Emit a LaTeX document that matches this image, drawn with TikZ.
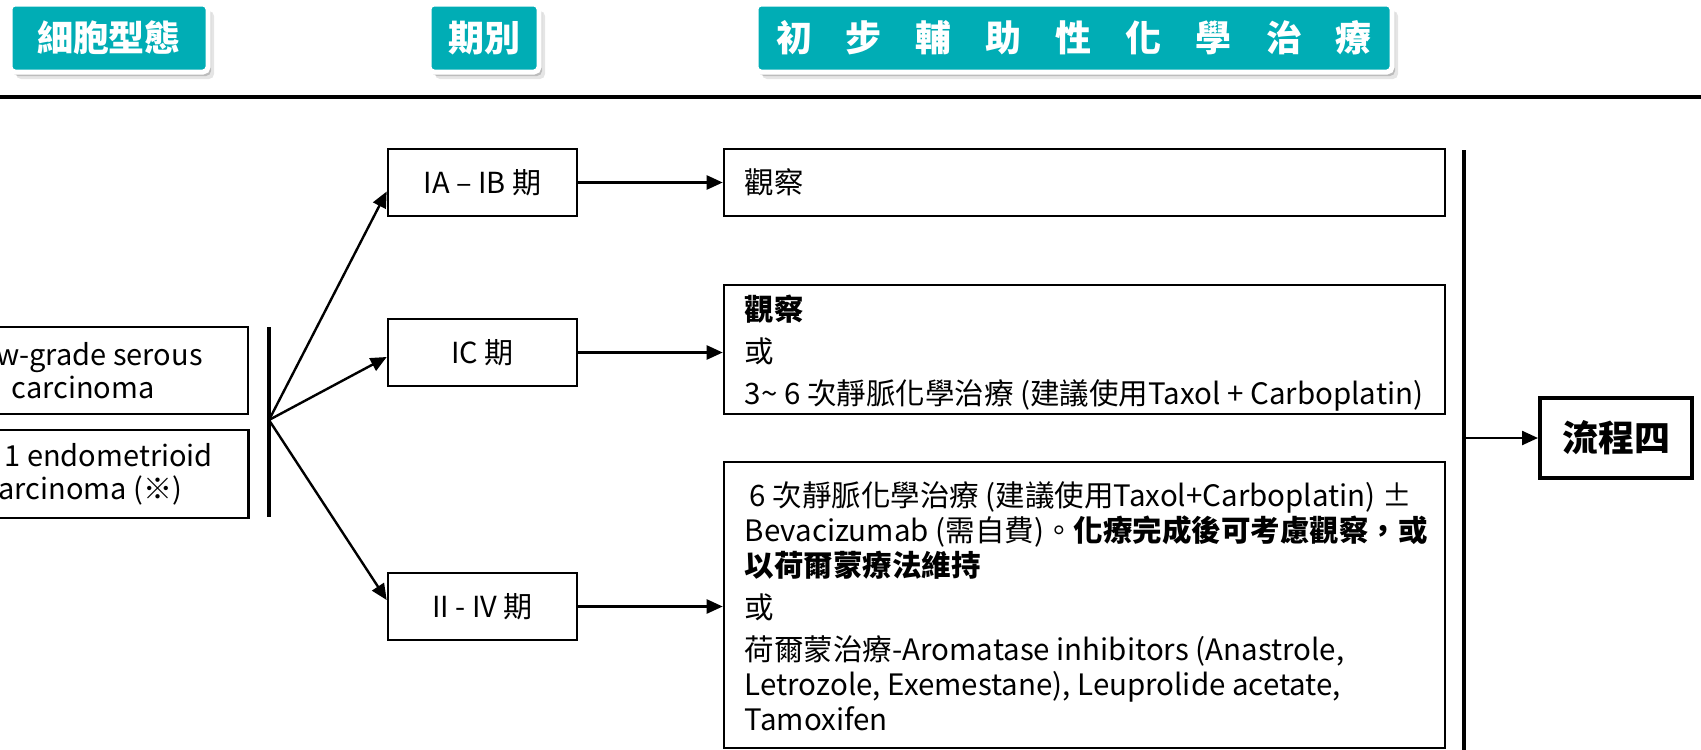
\documentclass[tikz,border=0pt]{standalone}
\usepackage{fontspec}
\setmainfont{Noto Sans CJK TC}
\usetikzlibrary{arrows.meta,calc,shadows}
\definecolor{hteal}{RGB}{0,173,181}
\newcommand\hgap{\hspace{34pt}}
\begin{document}
\begin{tikzpicture}[x=1pt,y=-1pt,
  hdr/.style={fill=hteal, draw=white, line width=5pt, rounded corners=5pt, text=white,
    font=\fontsize{36}{40}\selectfont\bfseries, inner sep=0pt,
    drop shadow={shadow xshift=3pt, shadow yshift=-4pt, fill=black, opacity=0.18},
    drop shadow={shadow xshift=6pt, shadow yshift=-7pt, fill=black, opacity=0.10}},
  box/.style={draw=black, line width=2.6pt, fill=white, inner sep=0pt},
  sbox/.style={box, minimum width=189pt, minimum height=67pt, font=\fontsize{29}{34}\selectfont},
  rbox/.style={box, minimum width=721pt},
  rtext/.style={align=left, inner sep=0pt, font=\fontsize{29.5}{35}\selectfont},
  lbox/.style={box, minimum width=330pt, align=center, font=\fontsize{29}{33}\selectfont},
  arr/.style={line width=2.4pt, -{Triangle[length=16pt,width=14pt]}},
  bar/.style={line width=4pt},
]
\useasboundingbox (0,0) rectangle (1701,750);
\clip (0,0) rectangle (1701,750);

% headers
\node[hdr, minimum width=198pt, minimum height=68pt] (h1) at (109,38) {細胞型態};
\node[hdr, minimum width=110pt, minimum height=68pt] (h2) at (484,38) {期別};
\node[hdr, minimum width=636pt, minimum height=68pt] (h3) at (1074,38)
  {初\hgap 步\hgap 輔\hgap 助\hgap 性\hgap 化\hgap 學\hgap 治\hgap 療};
\draw[line width=4pt] (0,97) coordinate (rl) -- (1701,97) coordinate (rr);

% cell type boxes
\node[lbox, minimum height=87pt] (lg) at (83,370.5) {Low-grade serous\\carcinoma};
\node[lbox, minimum height=88pt] (g1) at (83,474) {Grade 1 endometrioid\hspace*{36pt}\\carcinoma (※)};

% fan
\draw[bar] (269,327) coordinate (fb1) -- (269,517) coordinate (fb2);
\coordinate (fan) at (269,420);

% stage boxes
\node[sbox] (ia) at (482.5,182.5) {IA – IB 期};
\node[sbox] (ic) at (482.5,352.5) {IC 期};
\node[sbox] (iv) at (482.5,606.5) {II - IV 期};

\draw[arr] (fan) -- ([yshift=-9pt]ia.west);
\draw[arr] (fan) -- ([yshift=-4.5pt]ic.west);
\draw[arr] (fan) -- ([yshift=6.5pt]iv.west);

% treatment boxes
\node[rbox, minimum height=67pt] (r1) at (1084.5,182.5) {};
\node[rbox, minimum height=129pt] (r2) at (1084.5,349.5) {};
\node[rbox, minimum height=286pt] (r3) at (1084.5,605) {};

\node[rtext, anchor=west] (r1t) at ([xshift=22pt]r1.west) {觀察};
\node[rtext, anchor=west] (r2t) at ([xshift=22pt,yshift=-4pt]r2.west)
  {\textbf{觀察}\\[7pt]或\\[7pt]3\textasciitilde{} 6 次靜脈化學治療 (建議使用Taxol + Carboplatin)};
\node[rtext, anchor=west] (r3t) at ([xshift=22pt,yshift=-1pt]r3.west)
  {\hspace{5pt}6 次靜脈化學治療 (建議使用Taxol+Carboplatin) ±\\
   Bevacizumab (需自費)。\textbf{化療完成後可考慮觀察，或}\\
   \textbf{以荷爾蒙療法維持}\\[7pt]
   或\\[7pt]
   荷爾蒙治療-Aromatase inhibitors (Anastrole,\\
   Letrozole, Exemestane), Leuprolide acetate,\\
   Tamoxifen};

\draw[arr] (ia.east) -- (ia.east -| r1.west);
\draw[arr] (ic.east) -- (ic.east -| r2.west);
\draw[arr] (iv.east) -- (iv.east -| r3.west);

% right bar and flow
\draw[bar] (1464,150) coordinate (rb1) -- (1464,750) coordinate (rb2);
\coordinate (rbm) at (1464,438);
\node[box, line width=4pt, minimum width=152pt, minimum height=80pt,
      font=\fontsize{36}{40}\selectfont\bfseries] (flow) at (1616,438) {流程四};
\draw[arr] (rbm) -- (flow.west);
\end{tikzpicture}
\end{document}
